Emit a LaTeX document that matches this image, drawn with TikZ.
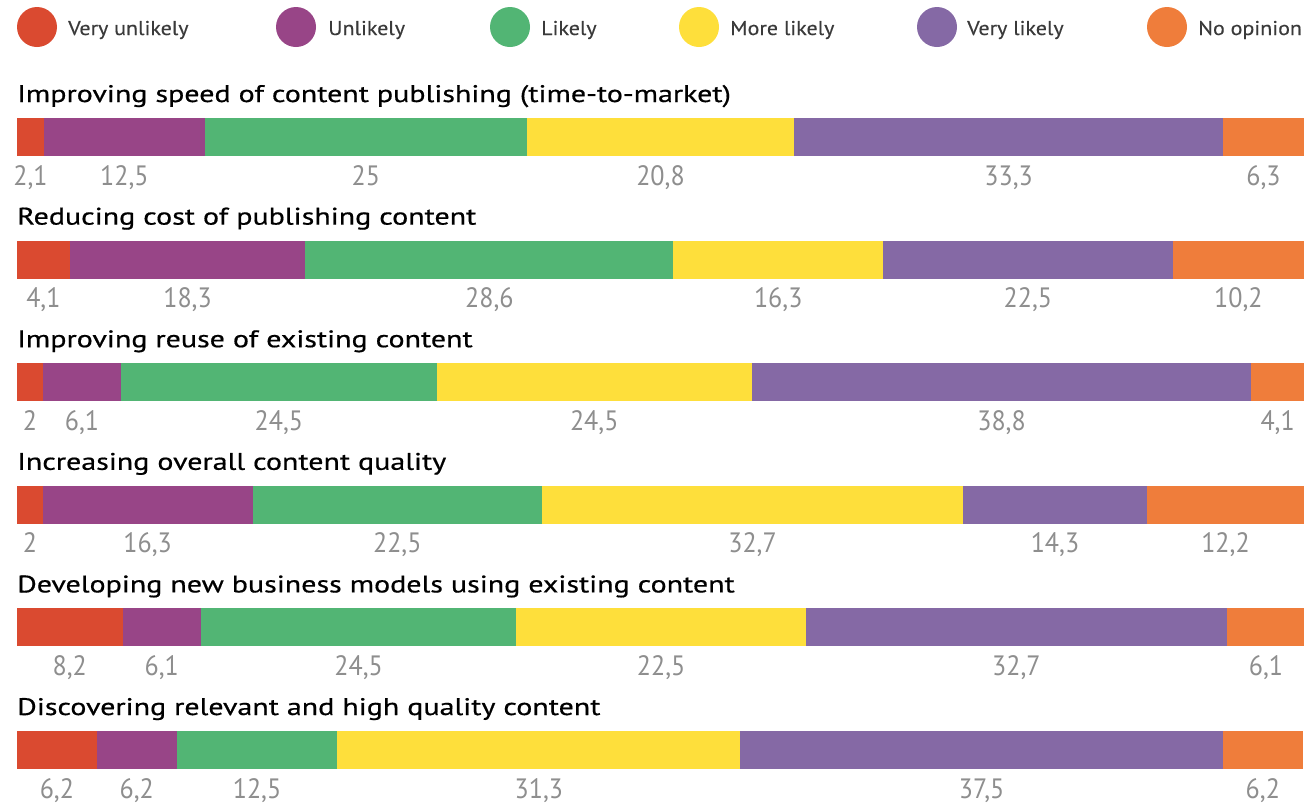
\documentclass[tikz,border=0pt]{standalone}
\usepackage{fontspec}
\setmainfont{PT Sans}
\newfontfamily\headfont[FakeStretch=1.25, FakeBold=0.6]{PT Sans}
\newfontfamily\keyfont[FakeStretch=1.1, FakeBold=0.3]{PT Sans}
\newfontfamily\numfont[FakeStretch=0.93]{PT Sans}
\usepackage{tikz}

\definecolor{answer1}{HTML}{DA4A30}
\definecolor{answer2}{HTML}{984587}
\definecolor{answer3}{HTML}{52B574}
\definecolor{answer4}{HTML}{FEDF3B}
\definecolor{answer5}{HTML}{8569A5}
\definecolor{answer6}{HTML}{EF7D3B}
\definecolor{keygrey}{HTML}{3A3A3A}
\definecolor{valuegrey}{HTML}{8E8E8E}

\begin{document}
\begin{tikzpicture}
  [x=1pt, y=-1pt,
   legenddot/.style={circle, minimum size=40pt, inner sep=0pt},
   legendtext/.style={anchor=base west, inner sep=0pt, text=keygrey,
     font=\keyfont\fontsize{20}{20}\selectfont},
   bartitle/.style={anchor=base west, inner sep=0pt,
     font=\headfont\fontsize{24}{24}\selectfont},
   barvalue/.style={anchor=base, inner sep=0pt, text=valuegrey,
     font=\numfont\fontsize{28}{28}\selectfont}]
  \pgfkeys{/pgf/number format/.cd, use comma, assume math mode=true}
  \useasboundingbox (0,0) rectangle (1304,807);

  \foreach \name/\cx/\tx [count=\i] in {Very unlikely/37/68, Unlikely/296/328,
    Likely/510/541, More likely/699/730, Very likely/937/967, No opinion/1167/1198}
  {
    \node[legenddot, fill=answer\i] (d\i) at (\cx,27) {};
    \node[legendtext] (k\i) at (\tx,35) {\name};
  }

  \foreach \question/\shares [count=\r] in {
    {Improving speed of content publishing (time-to-market)}/{2.1,12.5,25,20.8,33.3,6.3},
    {Reducing cost of publishing content}/{4.1,18.3,28.6,16.3,22.5,10.2},
    {Improving reuse of existing content}/{2,6.1,24.5,24.5,38.8,4.1},
    {Increasing overall content quality}/{2,16.3,22.5,32.7,14.3,12.2},
    {Developing new business models using existing content}/{8.2,6.1,24.5,22.5,32.7,6.1},
    {Discovering relevant and high quality content}/{6.2,6.2,12.5,31.3,37.5,6.2}}
  {
    \pgfmathsetmacro\bartop{118+122.6*(\r-1)}
    \node[bartitle] (q\r) at (17,\bartop-16) {\question};
    \foreach \v [count=\s, remember=\upto as \from (initially 0)] in \shares
    {
      \pgfmathsetmacro\upto{\from+\v}
      \fill[answer\s] (17+12.87*\from,\bartop) rectangle (17+12.87*\upto,\bartop+38);
      \node[barvalue] (v\r-\s) at (17+12.87*\from+6.435*\v,\bartop+67)
        {\pgfmathprintnumber{\v}};
    }
  }
\end{tikzpicture}
\end{document}
